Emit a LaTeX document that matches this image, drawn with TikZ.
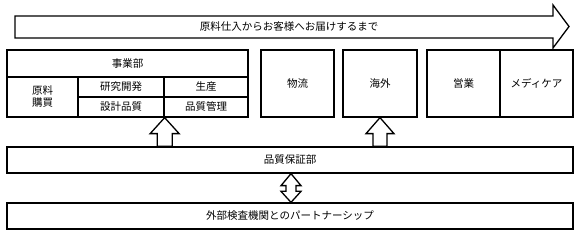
\documentclass[tikz,border=0pt]{standalone}
\usepackage{fontspec}
\newfontfamily\jp{Noto Sans CJK JP}
\usetikzlibrary{calc}
\tikzset{
  cell/.style={draw, line width=1.3pt, inner sep=0pt, align=center, font=\jp\fontsize{10.5}{12}\selectfont},
  blockarrow/.style={draw, line width=1.3pt, fill=white, line join=miter},
  lbl/.style={inner sep=0pt, font=\jp\fontsize{10.5}{12}\selectfont}
}
\begin{document}
\begin{tikzpicture}[x=1pt,y=-1pt]
\useasboundingbox (0,0) rectangle (581,237);
% top flow arrow
\draw[blockarrow] (15,16) -- (553,16) -- (553,5) -- (569,26.5) -- (553,48) -- (553,38) -- (15,38) -- cycle;
\node[lbl] (flow) at (289,27) {原料仕入からお客様へお届けするまで};
% business division
\node[cell, minimum width=241pt, minimum height=27pt] (biz) at (127.5,63.5) {事業部};
\node[cell, minimum width=71pt, minimum height=40pt] (buy) at (42.5,97) {原料\\購買};
\node[cell, minimum width=86pt, minimum height=20pt] (rd) at (121,87) {研究開発};
\node[cell, minimum width=84pt, minimum height=20pt] (prod) at (206,87) {生産};
\node[cell, minimum width=86pt, minimum height=20pt] (design) at (121,107) {設計品質};
\node[cell, minimum width=84pt, minimum height=20pt] (qc) at (206,107) {品質管理};
% other departments
\node[cell, minimum width=73pt, minimum height=67pt] (logi) at (297.5,83.5) {物流};
\node[cell, minimum width=74pt, minimum height=67pt] (overseas) at (380,83.5) {海外};
\node[cell, minimum width=73pt, minimum height=67pt] (sales) at (463.5,83.5) {営業};
\node[cell, minimum width=73pt, minimum height=67pt] (medi) at (536.5,83.5) {メディケア};
% QA and partnership
\node[cell, minimum width=566pt, minimum height=26pt] (qa) at (290,160) {品質保証部};
\node[cell, minimum width=566pt, minimum height=26pt] (partner) at (290,216) {外部検査機関とのパートナーシップ};
% up arrows
\coordinate (t1) at (design.south east);
\draw[blockarrow] (t1) -- ($(t1)+(14.5,16)$) -- ($(t1)+(7.5,16)$) -- ($(t1|-qa.north)+(7.5,0)$) -- ($(t1|-qa.north)+(-7.5,0)$) -- ($(t1)+(-7.5,16)$) -- ($(t1)+(-14.5,16)$) -- cycle;
\coordinate (t2) at (overseas.south);
\draw[blockarrow] (t2) -- ($(t2)+(14,16)$) -- ($(t2)+(7,16)$) -- ($(t2|-qa.north)+(7,0)$) -- ($(t2|-qa.north)+(-7,0)$) -- ($(t2)+(-7,16)$) -- ($(t2)+(-14,16)$) -- cycle;
% double arrow
\coordinate (d1) at ($(qa.south)+(1,0)$);
\coordinate (d2) at (d1|-partner.north);
\draw[blockarrow] (d1) -- ($(d1)+(10,12)$) -- ($(d1)+(5,12)$) -- ($(d2)+(5,-11)$) -- ($(d2)+(10,-11)$) -- (d2) -- ($(d2)+(-10,-11)$) -- ($(d2)+(-5,-11)$) -- ($(d1)+(-5,12)$) -- ($(d1)+(-10,12)$) -- cycle;
\end{tikzpicture}
\end{document}
